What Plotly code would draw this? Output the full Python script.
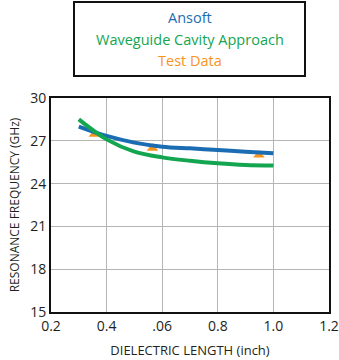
import plotly.graph_objects as go

# Data
ansoft_x = [0.3, 0.4, 0.5, 0.6, 0.7, 0.8, 0.9, 1.0]
ansoft_y = [28.0, 27.34, 26.87, 26.59, 26.47, 26.36, 26.24, 26.12]
wg_x = [0.3, 0.4, 0.5, 0.6, 0.7, 0.8, 0.9, 1.0]
wg_y = [28.5, 27.1, 26.24, 25.84, 25.6, 25.42, 25.3, 25.26]
test_x = [0.356, 0.565, 0.948]
test_y = [27.46, 26.48, 26.0]
x_ticks = [0.2, 0.4, 0.6, 0.8, 1.0, 1.2]
x_tick_labels = ["0.2", "0.4", ".06", "0.8", "1.0", "1.2"]
y_ticks = [15, 18, 21, 24, 27, 30]
series_names = ["Ansoft", "Waveguide Cavity Approach", "Test Data"]
series_colors = ["#1b6db3", "#14a550", "#f7941d"]

font = "Open Sans"

fig = go.Figure()
fig.add_trace(go.Scatter(x=test_x, y=test_y, mode="markers", name=series_names[2],
                         marker=dict(symbol="triangle-up", size=10, color=series_colors[2])))
fig.add_trace(go.Scatter(x=ansoft_x, y=ansoft_y, mode="lines", name=series_names[0],
                         line=dict(color=series_colors[0], width=4, shape="spline")))
fig.add_trace(go.Scatter(x=wg_x, y=wg_y, mode="lines", name=series_names[1],
                         line=dict(color=series_colors[1], width=4, shape="spline")))

fig.update_layout(
    width=339, height=360,
    margin=dict(l=51, r=10, t=98, b=48),
    paper_bgcolor="white", plot_bgcolor="white",
    showlegend=False,
    font=dict(family=font, color="#231f20"),
    xaxis=dict(range=[0.2, 1.2], tickvals=x_ticks, ticktext=x_tick_labels,
               showgrid=True, gridcolor="#b5b5b5", gridwidth=1,
               showline=True, linecolor="#111", linewidth=2, mirror=True,
               ticks="", tickfont=dict(size=14), zeroline=False, automargin=False,
               title=dict(text="DIELECTRIC LENGTH (inch)", font=dict(size=13), standoff=12)),
    yaxis=dict(range=[15, 30], tickvals=y_ticks,
               showgrid=True, gridcolor="#b5b5b5", gridwidth=1,
               showline=True, linecolor="#111", linewidth=2, mirror=True,
               ticks="", tickfont=dict(size=14), zeroline=False, automargin=False,
               title=dict(text="RESONANCE FREQUENCY (GHz)", font=dict(size=12), standoff=8)),
)

# Legend box
fig.add_shape(type="rect", xref="paper", yref="paper",
              x0=(74 - 51) / 278, x1=(305 - 51) / 278,
              y0=(312 - 76) / 214, y1=(312 - 2) / 214,
              line=dict(color="#111", width=2), fillcolor="white")
for i, (name, col) in enumerate(zip(series_names, series_colors)):
    ypix = 18 + 21 * i
    fig.add_annotation(xref="paper", yref="paper",
                       x=((74 + 305) / 2 - 51) / 278, y=(312 - ypix) / 214,
                       text=name, showarrow=False, font=dict(size=14.5, color=col, family=font),
                       xanchor="center", yanchor="middle")

fig.write_html("out.html")
